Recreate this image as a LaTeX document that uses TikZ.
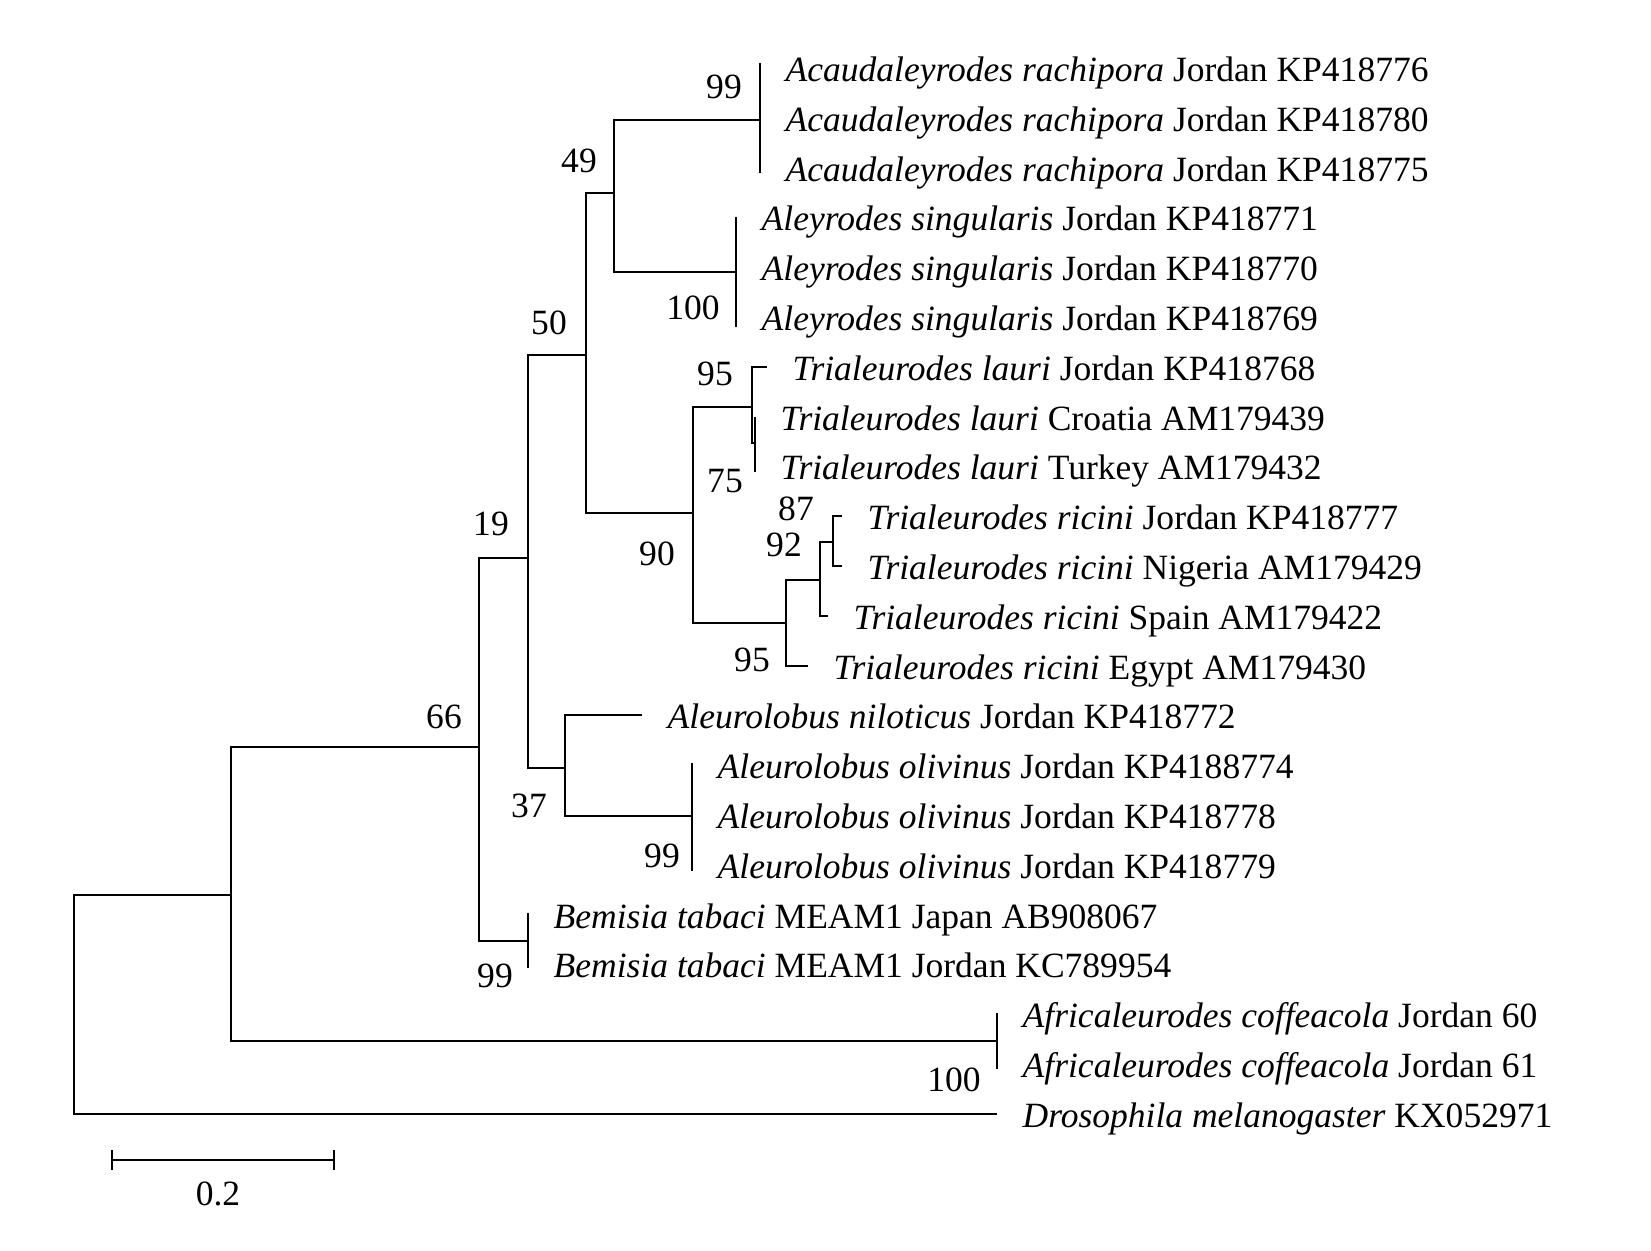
\documentclass[tikz,border=0pt]{standalone}
\usepackage{fontspec}
\setmainfont{Liberation Serif}
\usetikzlibrary{positioning}

\begin{document}
\begin{tikzpicture}[
    x=0.01cm, y=-0.01cm,
    font=\fontsize{10.1}{12}\selectfont,
    branch/.style={
		draw=black,
		line width=0.6pt
	},
	taxon/.style={
		anchor=west,
		inner sep=0pt,
		xshift=0.25cm,
		text height=8.5pt,
		text depth=0.8pt
	},
	boot/.style={
		inner sep=0pt
	}
  ]
  \useasboundingbox (0,0) rectangle (1651,1250);

    % We start by placing the internal nodes
  \coordinate (root) at (74,1004);
  \coordinate (nA) at (231,895);
  \coordinate (n66) at (479,747);
  \coordinate (n19) at (528,558);
  \coordinate (n50) at (586,355);
  \coordinate (n49) at (614,193);
  \coordinate (acau) at (760,120);
  \coordinate (aley) at (736,272);
  \coordinate (n90) at (693,513);
  \coordinate (n95a) at (752,407);
  \coordinate (n75) at (755,443);
  \coordinate (n95b) at (786,623);
  \coordinate (n92) at (820,580);
  \coordinate (n87) at (833,542);
  \coordinate (n37) at (565,768);
  \coordinate (olv) at (692,816);
  \coordinate (bem) at (528,941);
  \coordinate (afr) at (997,1041);

  % leaf tips
  \coordinate (t6) at (767,367);
  \coordinate (t9) at (842,516);
  \coordinate (t10) at (842,566);
  \coordinate (t11) at (828,616);
  \coordinate (t12) at (808,666);
  \coordinate (t13) at (642,715);
  \coordinate (t21) at (997,1114);

  % branches
  \draw [branch] (root) |- (nA);
  \draw [branch] (root) |- (t21);
  \draw [branch] (nA) |- (n66);
  \draw [branch] (nA) |- (afr);
  \draw [branch] (n66) |- (n19);
  \draw [branch] (n66) |- (bem);
  \draw [branch] (n19) |- (n50);
  \draw [branch] (n19) |- (n37);
  \draw [branch] (n50) |- (n49);
  \draw [branch] (n50) |- (n90);
  \draw [branch] (n49) |- (acau);
  \draw [branch] (n49) |- (aley);
  \draw [branch] (n90) |- (n95a);
  \draw [branch] (n90) |- (n95b);
  \draw [branch] (n95a) |- (t6);
  \draw [branch] (n95a) |- (n75);
  \draw [branch] (n95b) |- (n92);
  \draw [branch] (n95b) |- (t12);
  \draw [branch] (n92) |- (n87);
  \draw [branch] (n92) |- (t11);
  \draw [branch] (n87) |- (t9);
  \draw [branch] (n87) |- (t10);
  \draw [branch] (n37) |- (t13);
  \draw [branch] (n37) |- (olv);

  % zero length clades
  \draw [branch] (acau) ++(0,-57) -- ++(0,110);
  \draw [branch] (aley) ++(0,-55) -- ++(0,110);
  \draw [branch] (n75) ++(0,-26) -- ++(0,55);
  \draw [branch] (olv) ++(0,-53) -- ++(0,108);
  \draw [branch] (bem) ++(0,-28) -- ++(0,55);
  \draw [branch] (afr) ++(0,-28) -- ++(0,56);

  % taxa
  \node [taxon] (tx0) at (760,68) {\textit{Acaudaleyrodes rachipora} Jordan KP418776};
  \node [taxon] (tx1) at (760,118) {\textit{Acaudaleyrodes rachipora} Jordan KP418780};
  \node [taxon] (tx2) at (760,168) {\textit{Acaudaleyrodes rachipora} Jordan KP418775};
  \node [taxon] (tx3) at (736,217) {\textit{Aleyrodes singularis} Jordan KP418771};
  \node [taxon] (tx4) at (736,267) {\textit{Aleyrodes singularis} Jordan KP418770};
  \node [taxon] (tx5) at (736,317) {\textit{Aleyrodes singularis} Jordan KP418769};
  \node [taxon] (tx6) at (t6) {\textit{Trialeurodes lauri} Jordan KP418768};
  \node [taxon] (tx7) at (755,417) {\textit{Trialeurodes lauri} Croatia AM179439};
  \node [taxon] (tx8) at (755,466) {\textit{Trialeurodes lauri} Turkey AM179432};
  \node [taxon] (tx9) at (t9) {\textit{Trialeurodes ricini} Jordan KP418777};
  \node [taxon] (tx10) at (t10) {\textit{Trialeurodes ricini} Nigeria AM179429};
  \node [taxon] (tx11) at (t11) {\textit{Trialeurodes ricini} Spain AM179422};
  \node [taxon] (tx12) at (t12) {\textit{Trialeurodes ricini} Egypt AM179430};
  \node [taxon] (tx13) at (t13) {\textit{Aleurolobus niloticus} Jordan KP418772};
  \node [taxon] (tx14) at (692,765) {\textit{Aleurolobus olivinus} Jordan KP4188774};
  \node [taxon] (tx15) at (692,815) {\textit{Aleurolobus olivinus} Jordan KP418778};
  \node [taxon] (tx16) at (692,865) {\textit{Aleurolobus olivinus} Jordan KP418779};
  \node [taxon] (tx17) at (528,915) {\textit{Bemisia tabaci} MEAM1 Japan AB908067};
  \node [taxon] (tx18) at (528,964) {\textit{Bemisia tabaci} MEAM1 Jordan KC789954};
  \node [taxon] (tx19) at (997,1014) {\textit{Africaleurodes coffeacola} Jordan 60};
  \node [taxon] (tx20) at (997,1064) {\textit{Africaleurodes coffeacola} Jordan 61};
  \node [taxon] (tx21) at (t21) {\textit{Drosophila melanogaster} KX052971};

  % bootstrap values
  \node [boot] (b99a) at (724,87) {99};
  \node [boot] (b49) at (579,161) {49};
  \node [boot] (b100a) at (693,308) {100};
  \node [boot] (b50) at (549,323) {50};
  \node [boot] (b95a) at (715,374) {95};
  \node [boot] (b75) at (725,481) {75};
  \node [boot] (b87) at (796,509) {87};
  \node [boot] (b92) at (784,545) {92};
  \node [boot] (b90) at (657,554) {90};
  \node [boot] (b95b) at (752,660) {95};
  \node [boot] (b19) at (491,524) {19};
  \node [boot] (b66) at (444,717) {66};
  \node [boot] (b37) at (529,806) {37};
  \node [boot] (b99b) at (662,856) {99};
  \node [boot] (b99c) at (495,976) {99};
  \node [boot] (b100b) at (954,1080) {100};

  % scale bar
  \coordinate (sL) at (112,1160);
  \coordinate (sR) at (334,1160);
  \draw [branch] (sL) -- (sR);
  \draw [branch] (sL) ++(0,-10) -- ++(0,20);
  \draw [branch] (sR) ++(0,-10) -- ++(0,20);
  \node [boot] (sbar) at (218,1194) {0.2};

\end{tikzpicture}
\end{document}
